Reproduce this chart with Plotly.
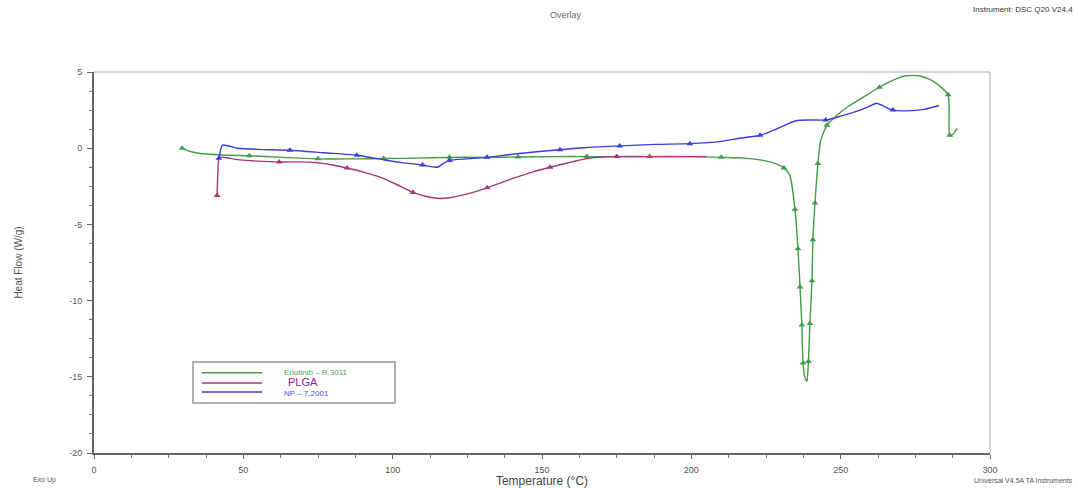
import plotly.graph_objects as go

# ---- data ----
green_name = "Erlotinib – R.3011"
green_x = [29.5, 32, 35.5, 43, 52, 63, 75, 87, 97, 108, 119, 130, 142, 155, 165, 175, 186, 198, 210, 218, 224, 228,
           231, 233, 234.7, 235.7, 236.4, 237, 237.4, 238, 238.7, 239.2, 239.7, 240.4, 240.7, 241.4, 242.4, 243.3,
           245.4, 249, 253, 258, 263, 268, 272, 276, 280, 283, 286, 286.5, 287.5, 289]
green_y = [0, -0.2, -0.35, -0.45, -0.5, -0.6, -0.7, -0.7, -0.68, -0.65, -0.6, -0.6, -0.58, -0.55, -0.55, -0.55,
           -0.55, -0.55, -0.6, -0.65, -0.8, -1.0, -1.3, -1.8, -4.0, -6.6, -9.1, -11.6, -14.1, -15.0, -15.3, -14.0,
           -11.5, -8.7, -6.0, -3.6, -1.0, 0.5, 1.5, 2.2, 2.8, 3.4, 4.0, 4.5, 4.75, 4.75, 4.5, 4.1, 3.5, 0.85, 0.9, 1.3]
green_marks = [0, 4, 6, 8, 10, 12, 14, 16, 18, 22, 24, 25, 26, 27, 28, 31, 32, 33, 34, 35, 36, 38, 42, 48, 49]

plga_name = "PLGA"
plga_x = [41.2, 41.5, 42, 48, 55, 62, 69, 74.7, 80, 84.7, 90, 95.7, 101, 106.8, 111, 115.8, 119, 125, 131.6, 140,
          147, 152.7, 160, 166, 175, 185, 195, 205]
plga_y = [-3.1, -1.5, -0.6, -0.75, -0.85, -0.9, -0.9, -0.95, -1.1, -1.3, -1.55, -1.9, -2.35, -2.9, -3.15, -3.3,
          -3.25, -3.0, -2.6, -2.0, -1.55, -1.25, -0.9, -0.65, -0.55, -0.55, -0.55, -0.55]
plga_marks = [0, 5, 9, 13, 18, 21, 24]

blue_name = "NP – 7.2001"
blue_x = [41.8, 42.2, 43, 48, 55, 65.6, 77, 88, 96.7, 103, 110, 115, 117, 119, 125, 131.6, 140, 150, 156, 165,
          176, 188, 199.5, 210, 216, 223, 229, 235, 240, 245, 250, 255, 259, 262, 265, 267.5, 272, 278, 283]
blue_y = [-0.66, -0.3, 0.2, 0.0, -0.08, -0.13, -0.3, -0.46, -0.75, -0.95, -1.1, -1.25, -1.0, -0.8, -0.7, -0.6,
          -0.4, -0.2, -0.1, 0.05, 0.15, 0.25, 0.3, 0.45, 0.65, 0.85, 1.3, 1.8, 1.85, 1.85, 2.1, 2.4, 2.7, 2.95,
          2.7, 2.5, 2.45, 2.55, 2.8]
blue_marks = [0, 5, 7, 10, 13, 15, 18, 20, 22, 25, 29, 35]

x_ticks = [0, 50, 100, 150, 200, 250, 300]
y_ticks = [5, 0, -5, -10, -15, -20]

# name, x, y, marker indices, line colour, legend text colour, legend text size
series = [
    (green_name, green_x, green_y, green_marks, "#3f9d45", "#4aa84f", 8),
    (plga_name, plga_x, plga_y, plga_marks, "#a8347f", "#8a22a6", 11),
    (blue_name, blue_x, blue_y, blue_marks, "#3b3bdc", "#4a4ae0", 8),
]

fig = go.Figure()
for name, xs, ys, marks, color, tcolor, tsize in series:
    fig.add_trace(go.Scatter(
        x=xs, y=ys, mode="lines", name=name,
        line=dict(color=color, width=1.4, shape="spline", smoothing=0.6),
        showlegend=False,
    ))
    fig.add_trace(go.Scatter(
        x=[xs[i] for i in marks], y=[ys[i] for i in marks], mode="markers",
        marker=dict(symbol="triangle-up", size=6, color=color),
        showlegend=False, hoverinfo="skip",
    ))

# ---- hand-built legend box (paper coordinates) ----
shapes = [
    dict(type="line", xref="paper", yref="paper", x0=0, x1=1, y0=1, y1=1, line=dict(color="#aaa", width=1)),
    dict(type="line", xref="paper", yref="paper", x0=1, x1=1, y0=0, y1=1, line=dict(color="#aaa", width=1)),
    dict(type="rect", xref="paper", yref="paper", x0=0.1105, x1=0.336, y0=0.131, y1=0.239,
         line=dict(color="#999", width=1.5), fillcolor="white", layer="above"),
]
annotations = [
    dict(text="Overlay", xref="paper", yref="paper", x=0.527, y=1.15, yanchor="middle", showarrow=False,
         font=dict(size=9, color="#666")),
    dict(text="Exo Up", xref="paper", yref="paper", x=-0.055, y=-0.071, yanchor="middle", showarrow=False,
         xanchor="center", font=dict(size=7, color="#555")),
    dict(text="Universal V4.5A TA Instruments", xref="paper", yref="paper", x=1.095, y=-0.071, yanchor="middle",
         showarrow=False, xanchor="right", font=dict(size=7, color="#555")),
    dict(text="Instrument: DSC Q20 V24.4", xref="paper", yref="paper", x=1.095, y=1.165, yanchor="middle",
         showarrow=False, xanchor="right", font=dict(size=8, color="#333")),
]
leg_rows = [0.2108, 0.1837, 0.160]
text_rows = [0.2108, 0.1875, 0.157]
for (name, xs, ys, marks, color, tcolor, tsize), ry, ty in zip(series, leg_rows, text_rows):
    shapes.append(dict(type="line", xref="paper", yref="paper", x0=0.1205, x1=0.1875, y0=ry, y1=ry,
                       line=dict(color=color, width=1.4), layer="above"))
    annotations.append(dict(text=name, xref="paper", yref="paper", x=0.2098 + (0.005 if tsize > 10 else 0),
                            y=ty, xanchor="left", yanchor="middle", showarrow=False,
                            font=dict(size=tsize, color=tcolor)))

axis_font = dict(family="Liberation Sans, Arial, sans-serif", size=9, color="#555")
fig.update_layout(
    width=1078, height=488,
    margin=dict(l=94, r=88, t=72, b=35),
    paper_bgcolor="white", plot_bgcolor="white",
    font=dict(family="Liberation Sans, Arial, sans-serif", color="#555"),
    showlegend=False,
    xaxis=dict(
        range=[0, 300], tickvals=x_ticks, ticktext=[str(v) for v in x_ticks], automargin=False,
        showgrid=False, zeroline=False, showline=True, linecolor="#666", linewidth=2,
        ticks="outside", ticklen=4, tickcolor="#666", tickfont=axis_font, ticklabelstandoff=3,
        minor=dict(dtick=12.5, ticks="outside", ticklen=3, tickcolor="#777"),
        title=dict(text="Temperature (°C)", font=dict(size=12, color="#444"), standoff=8),
    ),
    yaxis=dict(
        range=[-20, 5], tickvals=y_ticks, ticktext=[str(v) for v in y_ticks], automargin=False,
        showgrid=False, zeroline=False, showline=True, linecolor="#666", linewidth=2,
        ticks="outside", ticklen=5, tickcolor="#666", tickfont=axis_font, ticklabelstandoff=3,
        minor=dict(dtick=1.25, ticks="outside", ticklen=3, tickcolor="#777"),
        title=dict(text="Heat Flow (W/g)", font=dict(size=10, color="#555"), standoff=45),
    ),
    shapes=shapes,
    annotations=annotations,
)

fig.write_html("out.html")
